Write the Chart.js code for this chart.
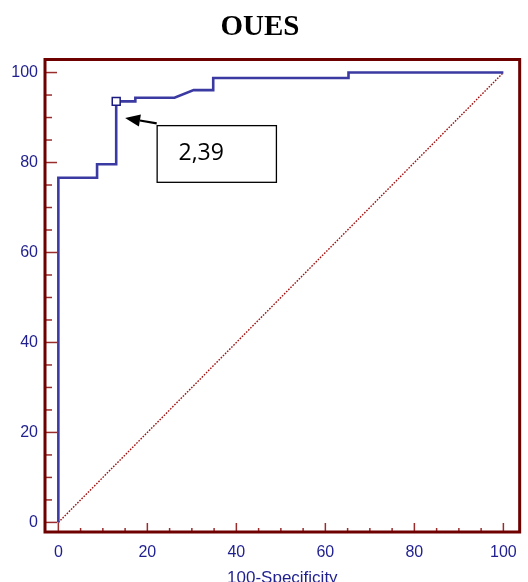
<!DOCTYPE html>
<html>
<head>
<meta charset="utf-8">
<script src="https://cdn.jsdelivr.net/npm/chart.js@4"></script>
<style>
  html, body { margin: 0; padding: 0; background: #fff; }
  canvas { display: block; }
</style>
</head>
<body>
<canvas id="rocChart" width="528" height="582"></canvas>
<script>
// ROC curve (x = 100-Specificity, y = Sensitivity)
const fprValues = [0, 0, 8.7, 8.7, 13.0, 13.0, 17.3, 17.3, 26.1, 30.4, 34.8, 34.8, 65.2, 65.2, 100];
const sensValues = [0, 76.6, 76.6, 79.6, 79.6, 93.6, 93.6, 94.4, 94.4, 96.1, 96.1, 98.8, 98.8, 100, 100];
const diagonalX = [0, 100];
const diagonalY = [0, 100];
const cutoffX = [13.0];
const cutoffY = [93.6];
const cutoffLabel = '2,39';
const majorTicks = [0, 20, 40, 60, 80, 100];
const minorTicks = [0, 5, 10, 15, 20, 25, 30, 35, 40, 45, 50, 55, 60, 65, 70, 75, 80, 85, 90, 95, 100];

const navy = '#1f1f8f';
const maroon = '#6e0000';
const tickRed = '#9b2c2c';
const lineBlue = '#3a3aa2';

const toPoints = (xs, ys) => xs.map((x, i) => ({ x: x, y: ys[i] }));

// frame, inner tick marks and the cutoff annotation
const framePlugin = {
    id: 'frame',
    afterDatasetsDraw(chart) {
        const ctx = chart.ctx;
        const area = chart.chartArea;
        const xs = chart.scales.x;
        const ys = chart.scales.y;
        ctx.save();

        ctx.strokeStyle = tickRed;
        ctx.lineWidth = 1.5;
        minorTicks.forEach(v => {
            const major = majorTicks.includes(v);
            const py = ys.getPixelForValue(v);
            ctx.beginPath();
            ctx.moveTo(area.left, py);
            ctx.lineTo(area.left + (major ? 12 : 7), py);
            ctx.stroke();
            const px = xs.getPixelForValue(v);
            ctx.beginPath();
            ctx.moveTo(px, area.bottom);
            ctx.lineTo(px, area.bottom - (major ? 9 : 4));
            ctx.stroke();
        });

        ctx.strokeStyle = maroon;
        ctx.lineWidth = 3;
        ctx.strokeRect(area.left, area.top, area.right - area.left, area.bottom - area.top);

        // annotation box
        const bx1 = xs.getPixelForValue(22.2), bx2 = xs.getPixelForValue(49.0);
        const by1 = ys.getPixelForValue(88.2), by2 = ys.getPixelForValue(75.6);
        ctx.fillStyle = '#fff';
        ctx.fillRect(bx1, by1, bx2 - bx1, by2 - by1);
        ctx.strokeStyle = '#000';
        ctx.lineWidth = 1.3;
        ctx.strokeRect(bx1, by1, bx2 - bx1, by2 - by1);
        ctx.fillStyle = '#000';
        ctx.font = '23px "Open Sans"';
        ctx.textAlign = 'left';
        ctx.textBaseline = 'middle';
        ctx.fillText(cutoffLabel, xs.getPixelForValue(27.0), ys.getPixelForValue(82.0));

        // arrow
        const ax1 = xs.getPixelForValue(22.1), ay1 = ys.getPixelForValue(88.7);
        const ax2 = xs.getPixelForValue(15.0), ay2 = ys.getPixelForValue(89.9);
        const ang = Math.atan2(ay2 - ay1, ax2 - ax1);
        const hl = 15, hw = 6;
        const bx = ax2 - hl * Math.cos(ang), byy = ay2 - hl * Math.sin(ang);
        ctx.lineWidth = 2.2;
        ctx.beginPath();
        ctx.moveTo(ax1, ay1);
        ctx.lineTo(bx, byy);
        ctx.stroke();
        ctx.beginPath();
        ctx.moveTo(ax2, ay2);
        ctx.lineTo(bx + hw * Math.sin(ang), byy - hw * Math.cos(ang));
        ctx.lineTo(bx - hw * Math.sin(ang), byy + hw * Math.cos(ang));
        ctx.closePath();
        ctx.fill();

        ctx.restore();
    }
};

const rocCtx = document.getElementById('rocChart').getContext('2d');

const rocChart = new Chart(rocCtx, {
    type: 'line',
    data: {
        datasets: [{
            label: 'Cutoff',
            data: toPoints(cutoffX, cutoffY),
            showLine: false,
            pointStyle: 'rect',
            pointRadius: 5.6,
            pointBackgroundColor: '#fff',
            pointBorderColor: '#1a1a80',
            pointBorderWidth: 1.5,
            order: 0
        }, {
            label: 'OUES',
            data: toPoints(fprValues, sensValues),
            borderColor: lineBlue,
            borderWidth: 2.6,
            pointRadius: 0,
            tension: 0,
            fill: false,
            order: 1
        }, {
            label: 'Reference',
            data: toPoints(diagonalX, diagonalY),
            borderColor: '#a01010',
            borderWidth: 1.4,
            borderDash: [1.6, 1.4],
            pointRadius: 0,
            fill: false,
            order: 2
        }]
    },
    options: {
        responsive: false,
        animation: false,
        layout: { padding: { left: 0, right: 8, top: 0, bottom: 0 } },
        plugins: {
            legend: { display: false },
            tooltip: { enabled: false },
            title: {
                display: true,
                text: 'OUES',
                color: '#000',
                font: { family: 'Liberation Serif', size: 29, weight: 'bold' },
                padding: { top: 10.6, bottom: 14.1 }
            }
        },
        scales: {
            x: {
                type: 'linear',
                min: -3.0,
                max: 103.66,
                grid: { display: false, drawTicks: false },
                border: { display: false },
                afterBuildTicks: s => { s.ticks = majorTicks.map(v => ({ value: v })); },
                afterFit: s => { s.height = 50; },
                ticks: {
                    color: navy,
                    padding: 11,
                    maxRotation: 0,
                    font: { family: 'Liberation Sans', size: 16 }
                },
                title: {
                    display: true,
                    text: '100-Specificity',
                    color: navy,
                    font: { family: 'Liberation Sans', size: 17 },
                    padding: { top: 0, bottom: -6.5 }
                }
            },
            y: {
                type: 'linear',
                min: -2.13,
                max: 102.9,
                grid: { display: false, drawTicks: false },
                border: { display: false },
                afterBuildTicks: s => { s.ticks = majorTicks.map(v => ({ value: v })); },
                afterFit: s => { s.width = 45; },
                ticks: {
                    color: navy,
                    padding: 7,
                    font: { family: 'Liberation Sans', size: 16 }
                }
            }
        }
    },
    plugins: [framePlugin]
});
</script>
</body>
</html>
